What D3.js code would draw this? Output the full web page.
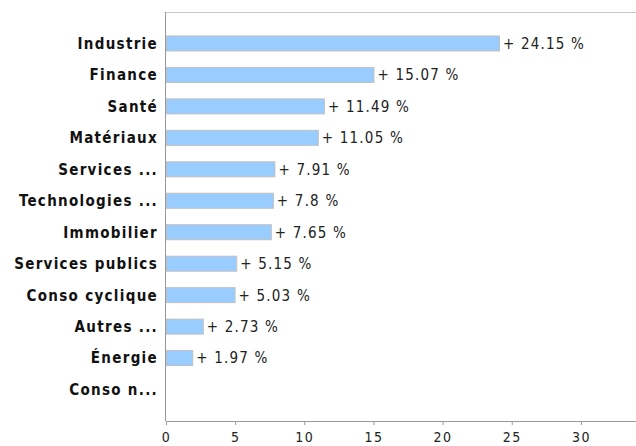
<!DOCTYPE html>
<html>
<head>
<meta charset="utf-8">
<script src="https://cdn.jsdelivr.net/npm/d3@7"></script>
<style>
body { margin: 0; background: white; }
svg { display: block; }
text { font-family: "DejaVu Sans Condensed", "DejaVu Sans"; font-stretch: condensed; }
</style>
</head>
<body>
<svg></svg>
<script>
var w = 636
var h = 446

var sectors = ["Industrie", "Finance", "Santé", "Matériaux", "Services ...", "Technologies ...",
	"Immobilier", "Services publics", "Conso cyclique", "Autres ...", "Énergie", "Conso n..."]
var changes = [24.15, 15.07, 11.49, 11.05, 7.91, 7.8, 7.65, 5.15, 5.03, 2.73, 1.97, null]
var xTicks = [0, 5, 10, 15, 20, 25, 30]

var plotLeft = 166
var plotTop = 12
var plotBottom = 421
var barH = 16

var svg = d3.select("svg")
	.attr("width", w)
	.attr("height", h)

var x = d3.scaleLinear()
	.domain([0, 34])
	.range([plotLeft, plotLeft + 34 * 13.83])

var y = d3.scalePoint()
	.domain(sectors)
	.range([plotTop, plotBottom])
	.padding(1)

// frame: top line and left line
svg.append("line")
	.attr("x1", plotLeft).attr("x2", w)
	.attr("y1", plotTop + 0.5).attr("y2", plotTop + 0.5)
	.attr("stroke", "#c8c8c8")

svg.append("line")
	.attr("x1", plotLeft - 0.5).attr("x2", plotLeft - 0.5)
	.attr("y1", plotTop).attr("y2", plotBottom)
	.attr("stroke", "#999")

// bars
var rows = sectors.map(function(s, i) { return {name: s, v: changes[i]} })

svg.selectAll(".bar")
	.data(rows.filter(function(d) { return d.v != null }))
	.enter().append("rect")
	.attr("class", "bar")
	.attr("x", x(0) + 0.5)
	.attr("y", function(d) { return y(d.name) - barH / 2 + 0.5 })
	.attr("width", function(d) { return x(d.v) - x(0) - 1 })
	.attr("height", barH - 1)
	.attr("fill", "#99ccff")
	.attr("stroke", "#c0c0c0")

svg.selectAll(".val")
	.data(rows.filter(function(d) { return d.v != null }))
	.enter().append("text")
	.attr("class", "val")
	.attr("x", function(d) { return x(d.v) + 3 })
	.attr("y", function(d) { return y(d.name) })
	.attr("dy", "0.36em")
	.style("font-size", "15px")
	.style("letter-spacing", "1.2px")
	.style("fill", "#222")
	.text(function(d) { return "+ " + d.v + " %" })

// category labels
svg.selectAll(".cat")
	.data(sectors)
	.enter().append("text")
	.attr("class", "cat")
	.attr("x", plotLeft - 8)
	.attr("y", function(d) { return y(d) })
	.attr("dy", "0.36em")
	.attr("text-anchor", "end")
	.style("font-weight", "bold")
	.style("font-size", "15px")
	.style("letter-spacing", "1.3px")
	.style("fill", "#111")
	.text(function(d) { return d })

// x axis
var xAxis = svg.append("g")
	.attr("transform", "translate(0," + plotBottom + ")")
	.call(d3.axisBottom(x).tickValues(xTicks).tickSize(4).tickSizeOuter(0))

xAxis.select(".domain").attr("stroke", "#999").attr("d", "M" + plotLeft + ",0.5H" + w)
xAxis.selectAll(".tick line").attr("stroke", "#999")
xAxis.selectAll(".tick text")
	.attr("y", 11)
	.style("font-family", null)
	.style("font-size", "14px")
	.style("letter-spacing", "1.5px")
	.style("fill", "#222")
</script>
</body>
</html>
